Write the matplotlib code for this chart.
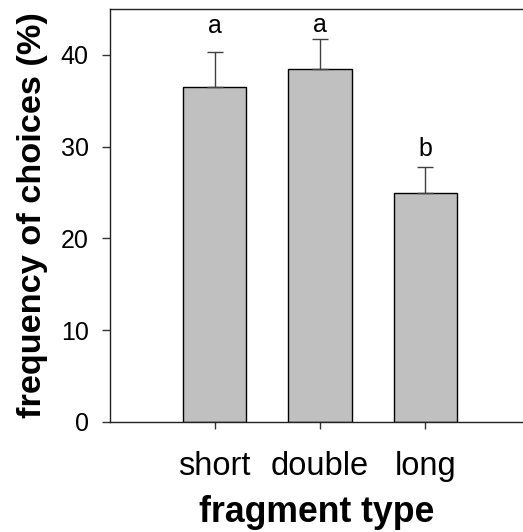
import numpy as np
import matplotlib
matplotlib.use("Agg")
import matplotlib.pyplot as plt

plt.rcParams['font.family'] = ['Liberation Sans', 'DejaVu Sans']

# frequency of choices per fragment type
categories = ["short", "double", "long"]
means = [36.5, 38.5, 25.0]
errors = [3.8, 3.2, 2.8]
letters = ["a", "a", "b"]
letter_y = [42.4, 42.5, 29.0]
yticks = [0, 10, 20, 30, 40]

fig = plt.figure(figsize=(5.23, 5.32), dpi=100)
ax = fig.add_axes([0.2094, 0.2068, 0.7906, 0.7763])

x = np.arange(len(categories))
ax.bar(x, means, width=0.6, color="#c0c0c0", edgecolor="black", linewidth=1.0, zorder=2)
ax.errorbar(x, means, yerr=[np.zeros(len(errors)), errors], fmt="none",
            ecolor="#404040", elinewidth=1.0, capsize=5.5, capthick=1.0, zorder=3)

for xi, lab, ly in zip(x, letters, letter_y):
    ax.text(xi, ly, lab, ha="center", va="baseline", fontsize=18)

ax.set_xlim(-1.0, 2.93)
ax.set_ylim(0, 45)
ax.set_yticks(yticks)
ax.set_xticks(x)
ax.set_xticklabels(categories, fontsize=23.5)
ax.tick_params(axis="y", labelsize=18, length=6, width=1, direction="out", pad=9, color="#333333")
ax.tick_params(axis="x", length=5, width=1, direction="out", pad=16, color="#333333")

for side in ["left", "top", "bottom"]:
    ax.spines[side].set_color("#222222")
    ax.spines[side].set_linewidth(1.0)
ax.spines["right"].set_visible(False)

ax.set_ylabel("frequency of choices (%)", fontsize=24.7, fontweight="bold", labelpad=9)
ax.set_xlabel("fragment type", fontsize=25.7, fontweight="bold", labelpad=9)

fig.savefig("out.png", dpi=100)
